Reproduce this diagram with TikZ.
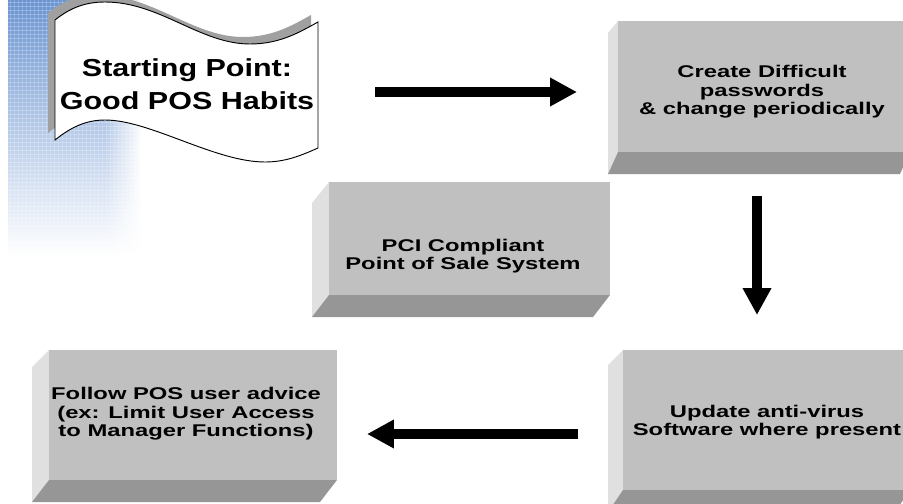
\documentclass[tikz,border=0pt]{standalone}
\usepackage{fontspec}
\setmainfont{Liberation Sans}
\usetikzlibrary{arrows.meta,fadings}

\definecolor{facegray}{RGB}{192,192,192}
\definecolor{sidegray}{RGB}{224,224,224}
\definecolor{basegray}{RGB}{150,150,150}
\definecolor{bgblue}{RGB}{106,148,208}
\definecolor{bgmid}{RGB}{176,200,230}
\definecolor{flagshade}{RGB}{160,160,160}

\tikzfading[name=fadeout, left color=transparent!100, right color=transparent!0]

\newcommand{\bevbox}[6]{%
	\fill[sidegray] (#1,#2) -- ++(-#5,#6) -- (#1-#5,#4+22) -- (#1,#4) -- cycle;
	\fill[basegray] (#1,#4) -- (#1-#5,#4+22) -- (#3-#5,#4+22) -- (#3,#4) -- cycle;
	\fill[facegray] (#1,#2) rectangle (#3,#4);
}
\newcommand{\flagpath}{(55,20) .. controls (70,8) and (85,2) .. (105,2) .. controls (160,2) and (200,44) .. (250,44) .. controls (280,44) and (300,32) .. (318,22) -- (318,148) .. controls (300,156) and (285,162) .. (265,162) .. controls (215,162) and (150,120) .. (105,120) .. controls (85,120) and (70,128) .. (55,140) -- cycle}

\tikzset{
	boxtext/.style={font=\bfseries\fontsize{14.5}{15.8}\selectfont,align=center,xscale=1.4,transform shape},
	flagtext/.style={font=\bfseries\fontsize{21}{28}\selectfont,align=center,xscale=1.24,transform shape},
	bigarrow/.style={line width=8pt}
}

\begin{document}
\begin{tikzpicture}[x=0.03cm,y=-0.03cm,>={Triangle[length=23pt,width=23pt]}]

\useasboundingbox (0,0) rectangle (903,503);
\clip (0,0) rectangle (903,503);

\shade[top color=bgblue,middle color=bgmid,bottom color=white] (8,0) rectangle (140,255);
\begin{scope}
	\clip (8,0) rectangle (140,255);
	\foreach \gx in {10,14,...,140} \draw[white,opacity=0.2,line width=0.4pt] (\gx,0) -- (\gx,255);
	\foreach \gy in {2,6,...,255} \draw[white,opacity=0.25,line width=0.4pt] (8,\gy) -- (140,\gy);
\end{scope}
\fill[white,path fading=fadeout] (105,0) rectangle (142,260);

\bevbox{618}{21}{910}{152}{10}{12}
\bevbox{329}{182}{610}{295}{17}{21}
\bevbox{49}{350}{337}{480}{17}{17}
\bevbox{623}{350}{910}{490}{15}{15}

\begin{scope}[shift={(-7,-7)}]
	\fill[flagshade] \flagpath;
\end{scope}
\filldraw[fill=white,draw=black,line width=0.8pt] \flagpath;

\node[flagtext]   (start)   at (187,84)   {Starting Point:\\Good POS Habits};
\node[boxtext]    (create)  at (762,92)   {Create Difficult\\passwords\\ \& change periodically};
\node[boxtext]    (pci)     at (463,256)  {PCI Compliant\\Point of Sale System};
\node[boxtext]    (follow)  at (186,414)  {Follow POS user advice\\(ex: Limit User Access\\ to Manager Functions)};
\node[boxtext]    (update)  at (767,422)  {Update anti-virus\\ Software where present};

\coordinate (a1s) at (375,92);
\coordinate (a1e) at (577,92);
\coordinate (a2s) at (757,196);
\coordinate (a2e) at (757,315);
\coordinate (a3s) at (578,434);
\coordinate (a3e) at (367,434);

\path[->,bigarrow] (a1s) edge (a1e)
	(a2s) edge (a2e)
	(a3s) edge (a3e);

\end{tikzpicture}
\end{document}
